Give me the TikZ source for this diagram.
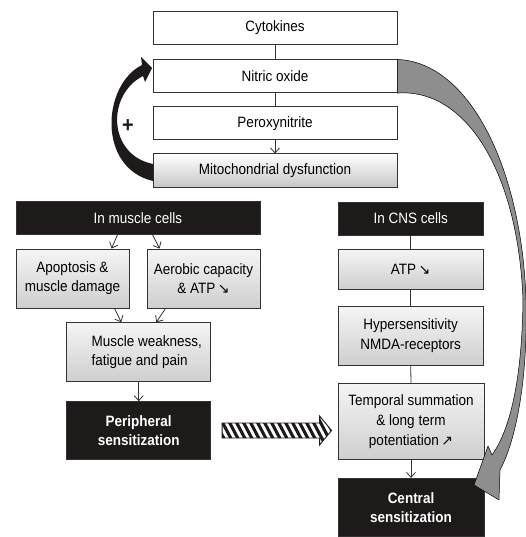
\documentclass[tikz,border=0pt]{standalone}
\usepackage{fontspec}
\setmainfont{Liberation Sans}[FakeStretch=0.9]
\newfontfamily\arrowfont{DejaVu Sans}
\usetikzlibrary{arrows.meta,calc}
\definecolor{ink}{HTML}{1E1A1A}
\definecolor{edge}{HTML}{333333}
\definecolor{ribbon}{HTML}{8E8E8E}
\newcommand{\dn}{\,{\arrowfont\fontsize{14}{14}\selectfont ↘}}
\newcommand{\upr}{\,{\arrowfont\fontsize{14}{14}\selectfont ↗}}
\tikzset{
  box/.style={draw=edge, line width=0.9pt, fill=white, minimum width=244pt,
    minimum height=33pt, inner sep=2pt, align=center,
    font=\fontsize{15}{19}\selectfont},
  shadebox/.style={box, top color=gray!8, bottom color=gray!38},
  darkbox/.style={box, fill=ink, text=white},
  link/.style={draw=edge, line width=0.8pt},
  flow/.style={link, -{Straight Barb[length=5pt,width=9pt]}},
}
\begin{document}
\begin{tikzpicture}[x=1pt,y=-1pt]
\useasboundingbox (0,0) rectangle (526,537);

% upper chain
\node[box] (cyt) at (275,27.5) {Cytokines};
\node[box, minimum height=32.7pt] (no) at (275,76.3) {Nitric oxide};
\node[box] (per) at (275,123.3) {Peroxynitrite};
\node[box, top color=white, bottom color=gray!45, minimum height=33.7pt] (mito) at (275,170.8) {Mitochondrial dysfunction};

% muscle branch
\node[darkbox, minimum height=32.6pt] (mc) at (138,218) {In muscle cells};
\node[shadebox, minimum width=113pt, minimum height=59pt] (apop) at (72.5,278.5) {Apoptosis \&\\muscle damage};
\node[shadebox, minimum width=113pt, minimum height=59pt] (aero) at (203.5,278.5) {Aerobic capacity\\\& ATP\dn};
\node[shadebox, minimum width=144pt, minimum height=59pt, align=left] (weak) at (138.7,352.2)
  {\hspace*{16pt}Muscle weakness,\\\hspace*{16pt}fatigue and pain};
\node[darkbox, minimum width=144pt, minimum height=57.6pt, font=\fontsize{15}{19}\selectfont\bfseries] (periph) at (138.7,430.5) {Peripheral\\sensitization};

% CNS branch
\node[darkbox, minimum width=145pt] (cns) at (410.7,218.5) {In CNS cells};
\node[shadebox, minimum width=145pt, minimum height=40pt] (atp) at (410.7,269.3) {ATP\dn};
\node[shadebox, minimum width=145pt, minimum height=58.3pt, font=\fontsize{15}{20}\selectfont] (hyp) at (410.7,335.8) {Hypersensitivity\\NMDA-receptors};
\node[shadebox, minimum width=146pt, minimum height=75.7pt, font=\fontsize{15}{20}\selectfont] (temp) at (411,421.2) {Temporal summation\\\& long term\\potentiation\upr};
\node[darkbox, minimum width=146pt, minimum height=57.7pt, font=\fontsize{15}{19}\selectfont\bfseries] (central) at (411,507.2) {Central\\sensitization};

% connectors
\draw[link] (cyt.south) -- (no.north);
\draw[link] (no.south) -- (per.north);
\draw[flow] (per.south) -- (mito.north);
\draw[flow] ([xshift=102pt]mc.south west) -- ([xshift=96pt]apop.north west);
\draw[flow] ([xshift=137pt]mc.south west) -- ([xshift=13pt]aero.north west);
\draw[flow] ([xshift=99pt]apop.south west) -- ([xshift=55pt]weak.north west);
\draw[flow] ([xshift=19pt]aero.south west) -- ([xshift=90pt]weak.north west);
\draw[flow] (weak.south) -- (periph.north);
\draw[link] (cns.south) -- (atp.north);
\draw[link] (atp.south) -- (hyp.north);
\draw[link] (hyp.south) -- (temp.north);
\draw[flow] (temp.south) -- (central.north);

% positive feedback loop from mitochondria back to nitric oxide
\fill[ink] (153,181) .. controls (97,168) and (102,85) .. (142,65)
  -- (141,57) -- (152,68) -- (145,82) -- (143,76)
  .. controls (106,95) and (108,155) .. (153,164) -- cycle;
\node[font=\fontsize{22}{22}\selectfont\bfseries, text=ink, inner sep=0pt] (plus) at (128,126) {+};

% ribbon arrow from nitric oxide down to central sensitization
\filldraw[fill=ribbon, draw=black, line width=0.5pt, line join=round]
  (no.north east) .. controls (470,62) and (522,170) .. (526,300)
  .. controls (528,380) and (516,440) .. (500,470)
  -- (499,500) -- (474,485) -- (488,446) -- (492,455)
  .. controls (510,430) and (522,380) .. (523,300)
  .. controls (518,170) and (465,88) .. (no.south east) -- cycle;

% hatched arrow from peripheral to central mechanisms
\coordinate (hs) at ($(periph.east)+(11,0)$);
\coordinate (he) at ($(temp.west|-periph.east)+(-6,0)$);
\begin{scope}
  \clip ($(hs)+(0,-7.5)$) -- ($(he)+(-12,-7.5)$) -- ($(he)+(-12,-14.5)$) -- (he)
    -- ($(he)+(-12,14.5)$) -- ($(he)+(-12,7.5)$) -- ($(hs)+(0,7.5)$) -- cycle;
  \foreach \x in {196,203,...,340} \draw[line width=3.1pt, ink] (\x,412) -- (\x+20,450);
\end{scope}
\draw[ink, line width=0.9pt, line join=miter]
  ($(hs)+(0,-7.5)$) -- ($(he)+(-12,-7.5)$) -- ($(he)+(-12,-14.5)$) -- (he)
  -- ($(he)+(-12,14.5)$) -- ($(he)+(-12,7.5)$) -- ($(hs)+(0,7.5)$) -- cycle;
\end{tikzpicture}
\end{document}
